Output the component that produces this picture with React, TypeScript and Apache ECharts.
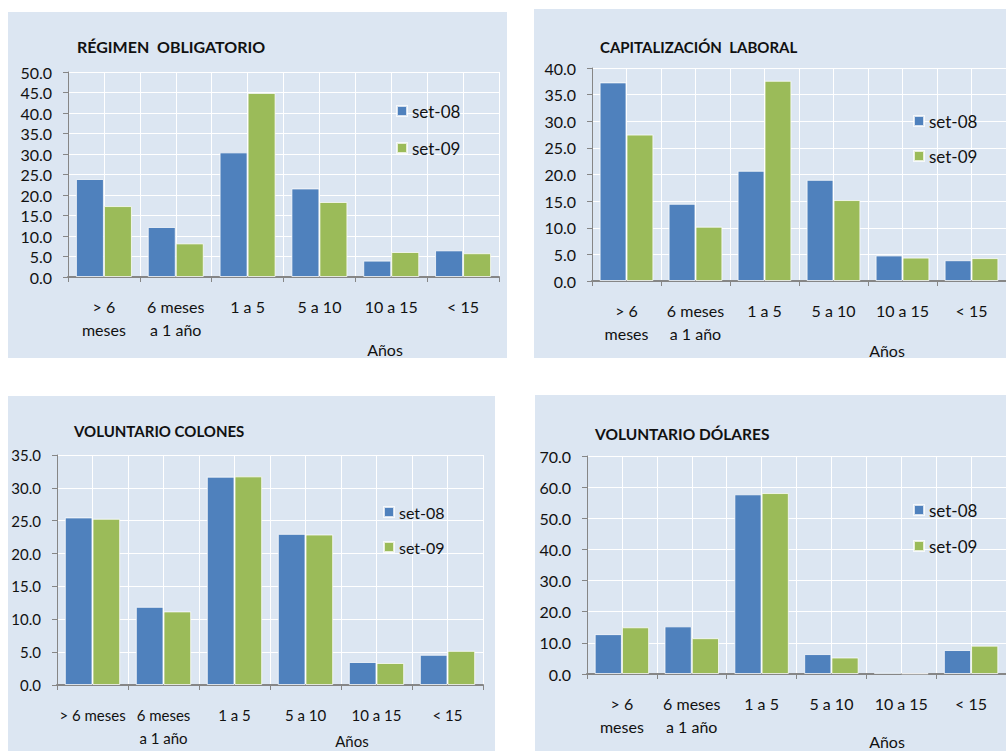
import React, { useEffect, useRef } from "react";
import * as echarts from "echarts";

// ---- Data ----
const categoriesA = ["> 6\nmeses", "6 meses\na 1 año", "1 a 5", "5 a 10", "10 a 15", "< 15"];
const categoriesB = ["> 6 meses", "6 meses\na 1 año", "1 a 5", "5 a 10", "10 a 15", "< 15"];
const seriesNames = ["set-08", "set-09"];
const titles = ["RÉGIMEN  OBLIGATORIO", "CAPITALIZACIÓN  LABORAL", "VOLUNTARIO COLONES", "VOLUNTARIO DÓLARES"];
const axisTitle = "Años";

const regimen08 = [23.9, 12.2, 30.4, 21.6, 4.0, 6.5];
const regimen09 = [17.3, 8.2, 44.9, 18.3, 6.1, 5.8];
const capital08 = [37.3, 14.5, 20.7, 19.0, 4.8, 3.9];
const capital09 = [27.5, 10.2, 37.6, 15.2, 4.4, 4.3];
const colones08 = [25.5, 11.9, 31.7, 23.0, 3.5, 4.6];
const colones09 = [25.3, 11.2, 31.75, 22.9, 3.35, 5.2];
const dolares08 = [12.8, 15.3, 57.7, 6.4, 0.6, 7.7];
const dolares09 = [15.0, 11.5, 58.1, 5.3, 0.2, 9.1];

const yMaxes = [50, 40, 35, 70];
const yIntervals = [5, 5, 5, 10];

const FONT = 'Lato, "Open Sans", sans-serif';
const BLUE = "#4f81bd";
const GREEN = "#9bbb59";
const BG = "#dce6f2";
const AXIS = "#868686";

const panels = [
  {
    cats: categoriesA, s08: regimen08, s09: regimen09,
    bg: [8, 12, 499, 346],
    grid: { left: 68, top: 72, width: 431, height: 205 },
    title: [77, 46], titleFs: 16, legend: [396, 101], legendGap: 17, anos: [385, 349], fs: 16,
  },
  {
    cats: categoriesA, s08: capital08, s09: capital09,
    bg: [534, 9, 472, 349],
    grid: { left: 592, top: 68, width: 416, height: 213 },
    title: [600, 47], titleFs: 15, legend: [913, 111], legendGap: 15, anos: [887, 350], fs: 16,
  },
  {
    cats: categoriesB, s08: colones08, s09: colones09,
    bg: [8, 396, 487, 355],
    grid: { left: 57, top: 455, width: 426, height: 230 },
    title: [74, 431], titleFs: 15, legend: [383, 502], legendGap: 15, anos: [352, 741], fs: 15,
  },
  {
    cats: categoriesA, s08: dolares08, s09: dolares09,
    bg: [535, 395, 471, 356],
    grid: { left: 587, top: 456, width: 423, height: 218 },
    title: [595, 434], titleFs: 15.5, legend: [913, 500], legendGap: 16, anos: [887, 741], fs: 16,
  },
];

export default function App() {
  const ref = useRef<HTMLDivElement>(null);
  useEffect(() => {
    if (!ref.current) return;
    const chart = echarts.init(ref.current, undefined, { renderer: "svg" });

    const grids: any[] = [];
    const xAxes: any[] = [];
    const yAxes: any[] = [];
    const series: any[] = [];
    const legends: any[] = [];
    const graphics: any[] = [];

    panels.forEach((p, i) => {
      graphics.push({
        type: "rect", z: -10, silent: true,
        shape: { x: p.bg[0], y: p.bg[1], width: p.bg[2], height: p.bg[3] },
        style: { fill: BG },
      });
      graphics.push({
        type: "text", x: p.title[0], y: p.title[1],
        style: { text: titles[i], font: `bold ${p.titleFs}px ${FONT}`, fill: "#111", textVerticalAlign: "middle", textAlign: "left" },
      });
      graphics.push({
        type: "text", x: p.anos[0], y: p.anos[1],
        style: { text: axisTitle, font: `${p.fs}px ${FONT}`, fill: "#111", textVerticalAlign: "middle", textAlign: "center" },
      });

      grids.push({ ...p.grid, containLabel: false });
      // category axis
      xAxes.push({
        type: "category", gridIndex: i, data: p.cats, position: "bottom",
        axisLine: { show: true, lineStyle: { color: AXIS, width: 2 } },
        axisTick: { show: true, alignWithLabel: false, length: 5, lineStyle: { color: AXIS, width: 1 } },
        axisLabel: { interval: 0, margin: 18, color: "#111", fontFamily: FONT, fontSize: p.fs, lineHeight: 23 },
        splitLine: { show: false },
      });
      // hidden half-category grid lines
      xAxes.push({
        type: "value", gridIndex: i, min: 0, max: 12, interval: 1, position: "top",
        axisLine: { show: false }, axisTick: { show: false }, axisLabel: { show: false },
        splitLine: { show: true, lineStyle: { color: "#ffffff", width: 1 } },
      });
      yAxes.push({
        type: "value", gridIndex: i, min: 0, max: yMaxes[i], interval: yIntervals[i],
        axisLine: { show: true, lineStyle: { color: AXIS, width: 1 } },
        axisTick: { show: true, length: 5, lineStyle: { color: AXIS } },
        axisLabel: {
          margin: 16, color: "#111", fontFamily: FONT, fontSize: p.fs,
          formatter: (v: number) => v.toFixed(1),
        },
        splitLine: { show: true, lineStyle: { color: "#ffffff", width: 1 } },
      });
      [p.s08, p.s09].forEach((d, k) => {
        series.push({
          type: "bar", name: seriesNames[k], xAxisIndex: i * 2, yAxisIndex: i, data: d,
          barGap: "0%", barCategoryGap: "22%",
          itemStyle: { color: k === 0 ? BLUE : GREEN, borderColor: "rgba(255,255,255,0.75)", borderWidth: 1 },
        });
      });
      legends.push({
        data: seriesNames, orient: "vertical", left: p.legend[0], top: p.legend[1],
        padding: 0, itemWidth: 10, itemHeight: 10, itemGap: p.legendGap, itemTextGap: 6, icon: "rect",
        textStyle: { fontFamily: FONT, fontSize: p.fs + 1, color: "#111", lineHeight: 20 },
        selectedMode: false,
      });
    });

    chart.setOption({
      animation: false,
      backgroundColor: "#ffffff",
      grid: grids,
      xAxis: xAxes,
      yAxis: yAxes,
      series,
      legend: legends,
      graphic: graphics,
    });
    return () => chart.dispose();
  }, []);
  return <div ref={ref} style={{ position: "absolute", left: 0, top: 0, width: 1006, height: 751 }} />;
}
